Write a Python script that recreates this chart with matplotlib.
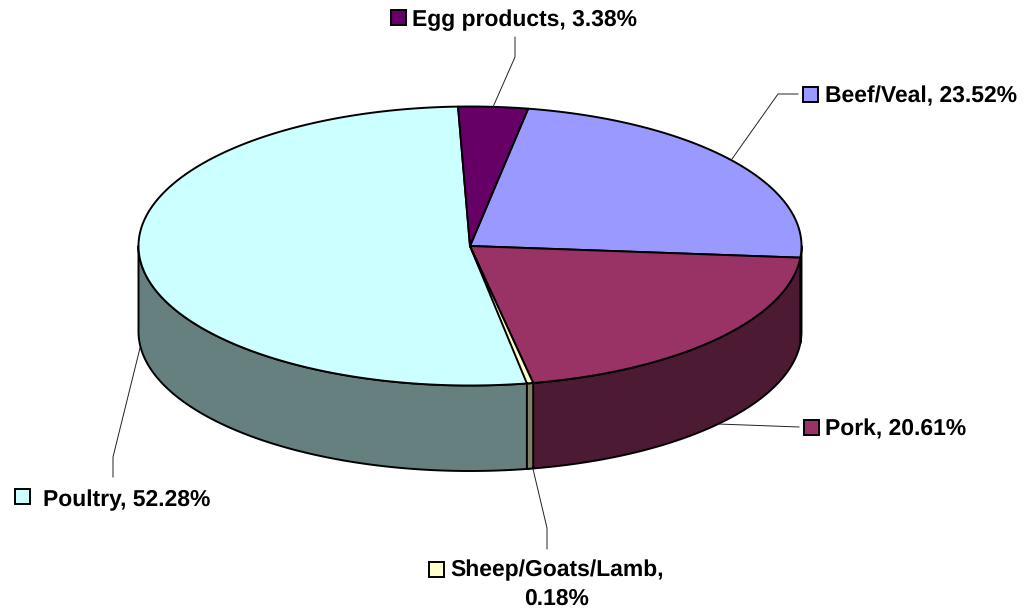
"""
Meat and egg products share, drawn as an extruded 3D style pie.
"""
import numpy as np
import matplotlib
matplotlib.use("Agg")
import matplotlib.pyplot as plt
from matplotlib.patches import Polygon, Rectangle

plt.rcParams["font.family"] = ["Liberation Sans", "DejaVu Sans"]
plt.rcParams["text.hinting"] = "no_hinting"

# slices run clockwise from the first start angle
categories = ["Egg products", "Beef/Veal", "Pork", "Sheep/Goats/Lamb", "Poultry"]
shares = [3.38, 23.52, 20.61, 0.18, 52.28]
top_colors = ["#660066", "#9999FF", "#993366", "#FFFFCC", "#CCFFFF"]
side_colors = ["#330033", "#4D4D80", "#4D1A33", "#808066", "#668080"]

START_DEG = -2.07
MIN_SWEEP = 1.1  # very thin slices still get drawn this wide
CX, CY = 470, 246
RX, RY = 331.5, 139.5
DEPTH = 85.5
LW = 1.4
FONT = 16.5


def rim(t_deg, drop=0):
    t = np.radians(t_deg)
    return np.column_stack([CX + RX * np.sin(t), CY - RY * np.cos(t) + drop])


fig = plt.figure(figsize=(10.26, 6.09), dpi=100)
ax = fig.add_axes([0, 0, 1, 1])
ax.set_xlim(0, 1026)
ax.set_ylim(609, 0)
ax.axis("off")

edges = START_DEG + 360 * np.cumsum([0] + shares) / sum(shares)
# biggest first, so a thin slice widened by MIN_SWEEP lands on top
order = np.argsort(shares)[::-1]

# ── side wall, only the front half (90..270 deg) shows ──────────────────────
for i in order:
    end = max(edges[i + 1], edges[i] + MIN_SWEEP)
    lo, hi = max(edges[i], 90), min(end, 270)
    if hi <= lo:
        continue
    ts = np.linspace(lo, hi, 200)
    pts = np.vstack([rim(ts), rim(ts[::-1], DEPTH)])
    ax.add_patch(Polygon(pts, closed=True, facecolor=side_colors[i],
                         edgecolor="black", linewidth=LW, joinstyle="round"))

# ── top face ────────────────────────────────────────────────────────────────
for i in order:
    end = max(edges[i + 1], edges[i] + MIN_SWEEP)
    ts = np.linspace(edges[i], end, 300)
    pts = np.vstack([[CX, CY], rim(ts)])
    ax.add_patch(Polygon(pts, closed=True, facecolor=top_colors[i],
                         edgecolor="black", linewidth=LW, joinstyle="round"))

# ── leader lines ────────────────────────────────────────────────────────────
leaders = [
    [(515, 37), (515, 57), (493, 107)],
    [(798, 94), (778, 94), (732, 159)],
    [(799, 427), (718, 424)],
    [(547, 549), (547, 528), (533, 469)],
    [(113, 477), (113, 457), (140, 348)],
]
for path in leaders:
    xs, ys = zip(*path)
    ax.plot(xs, ys, color="#222222", linewidth=0.7, solid_joinstyle="miter")

# ── labels with colour keys ─────────────────────────────────────────────────
key_pos = [(391, 10), (803, 87), (804, 420), (429, 562), (15, 489)]
text_pos = [(412, 26), (825, 102), (825, 435), (450, 576), (43, 506)]
for i, cat in enumerate(categories):
    kx, ky = key_pos[i]
    ax.add_patch(Rectangle((kx, ky), 15, 15, facecolor=top_colors[i],
                           edgecolor="black", linewidth=LW))
    label = f"{cat}, {shares[i]:.2f}%"
    tx, ty = text_pos[i]
    if cat == "Sheep/Goats/Lamb":
        ax.text(tx, ty, f"{cat},", fontsize=FONT, fontweight="bold", va="baseline")
        ax.text(557, 605, f"{shares[i]:.2f}%", fontsize=FONT, fontweight="bold",
                va="baseline", ha="center")
    else:
        ax.text(tx, ty, label, fontsize=FONT, fontweight="bold", va="baseline")

fig.savefig("out.png", dpi=100)
plt.close(fig)
